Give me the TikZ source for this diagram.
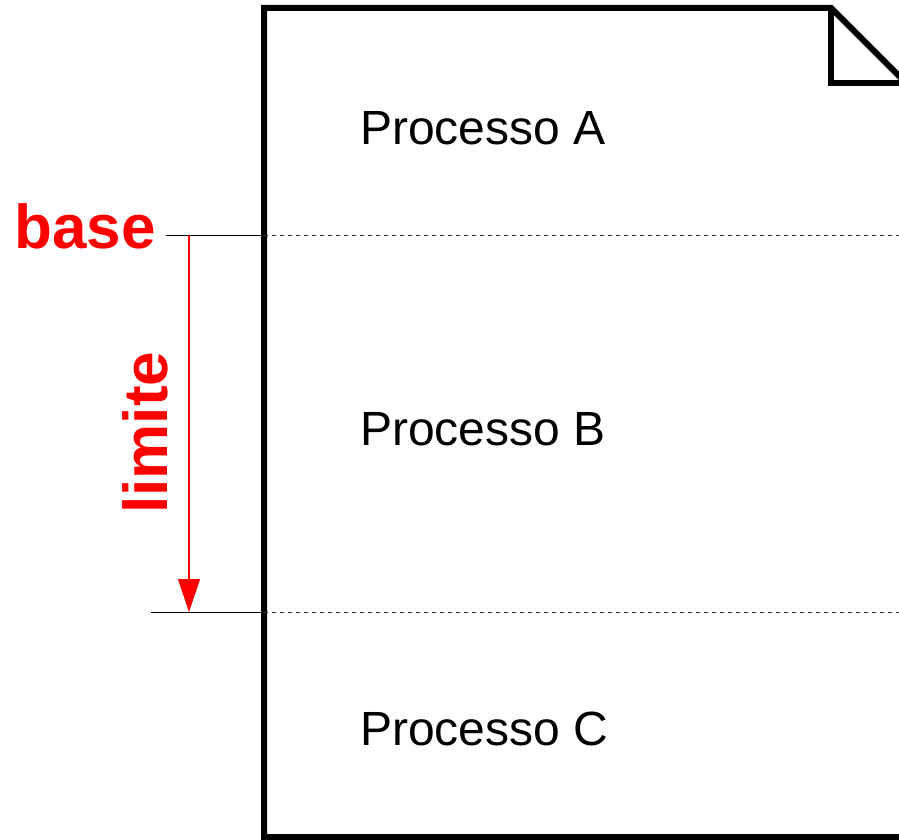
\documentclass[tikz,border=0pt]{standalone}
\usepackage{fontspec}
\setmainfont{Liberation Sans}
\usetikzlibrary{arrows.meta}
\begin{document}
\begin{tikzpicture}[x=1pt,y=-1pt,
  doc/.style={line width=6pt, line join=miter},
  proc/.style={anchor=base west, inner sep=0pt, font=\fontsize{48}{58}\selectfont},
  redlab/.style={inner sep=0pt, text=red, font=\fontsize{62}{74}\selectfont\bfseries},
  sepsolid/.style={line width=1pt, black},
  sepdash/.style={line width=0.8pt, black!80, dash pattern=on 4pt off 4pt},
  limarrow/.style={draw=red, fill=red, line width=1.2pt, -{Triangle[width=22pt,length=33pt]}}]
\useasboundingbox (0,0) rectangle (899,840);
\clip (0,0) rectangle (899,840);
% page outline
\coordinate (bl) at (264,837);
\coordinate (tl) at (264,8);
\coordinate (tf) at (831,8);
\coordinate (fb) at (831,83.5);
\coordinate (fr) at (910,83.5);
\coordinate (fd) at (906.5,83.5);
\coordinate (br) at (910,837);
\draw[doc] (br) -- (bl) -- (tl) -- (tf) -- (fd);
\draw[doc] (tf) -- (fb) -- (fr);
% separators
\coordinate (b0) at (166,235);
\coordinate (b1) at (264,235);
\coordinate (b2) at (899,235);
\coordinate (l0) at (151,612);
\coordinate (l1) at (264,612);
\coordinate (l2) at (899,612);
\draw[sepsolid] (b0) -- (b1);
\draw[sepdash] (b1) -- (b2);
\draw[sepsolid] (l0) -- (l1);
\draw[sepdash] (l1) -- (l2);
% arrow
\coordinate (a0) at (189,235);
\coordinate (a1) at (189,612);
\draw[limarrow] (a0) -- (a1);
% labels
\node[proc] (pa) at (360,144) {Processo A};
\node[proc] (pb) at (360,445) {Processo B};
\node[proc] (pc) at (360,745) {Processo C};
\node[redlab, anchor=base west] (base) at (14,248) {base};
\node[redlab, anchor=base west, rotate=90] (lim) at (167,514) {limite};
\end{tikzpicture}
\end{document}
